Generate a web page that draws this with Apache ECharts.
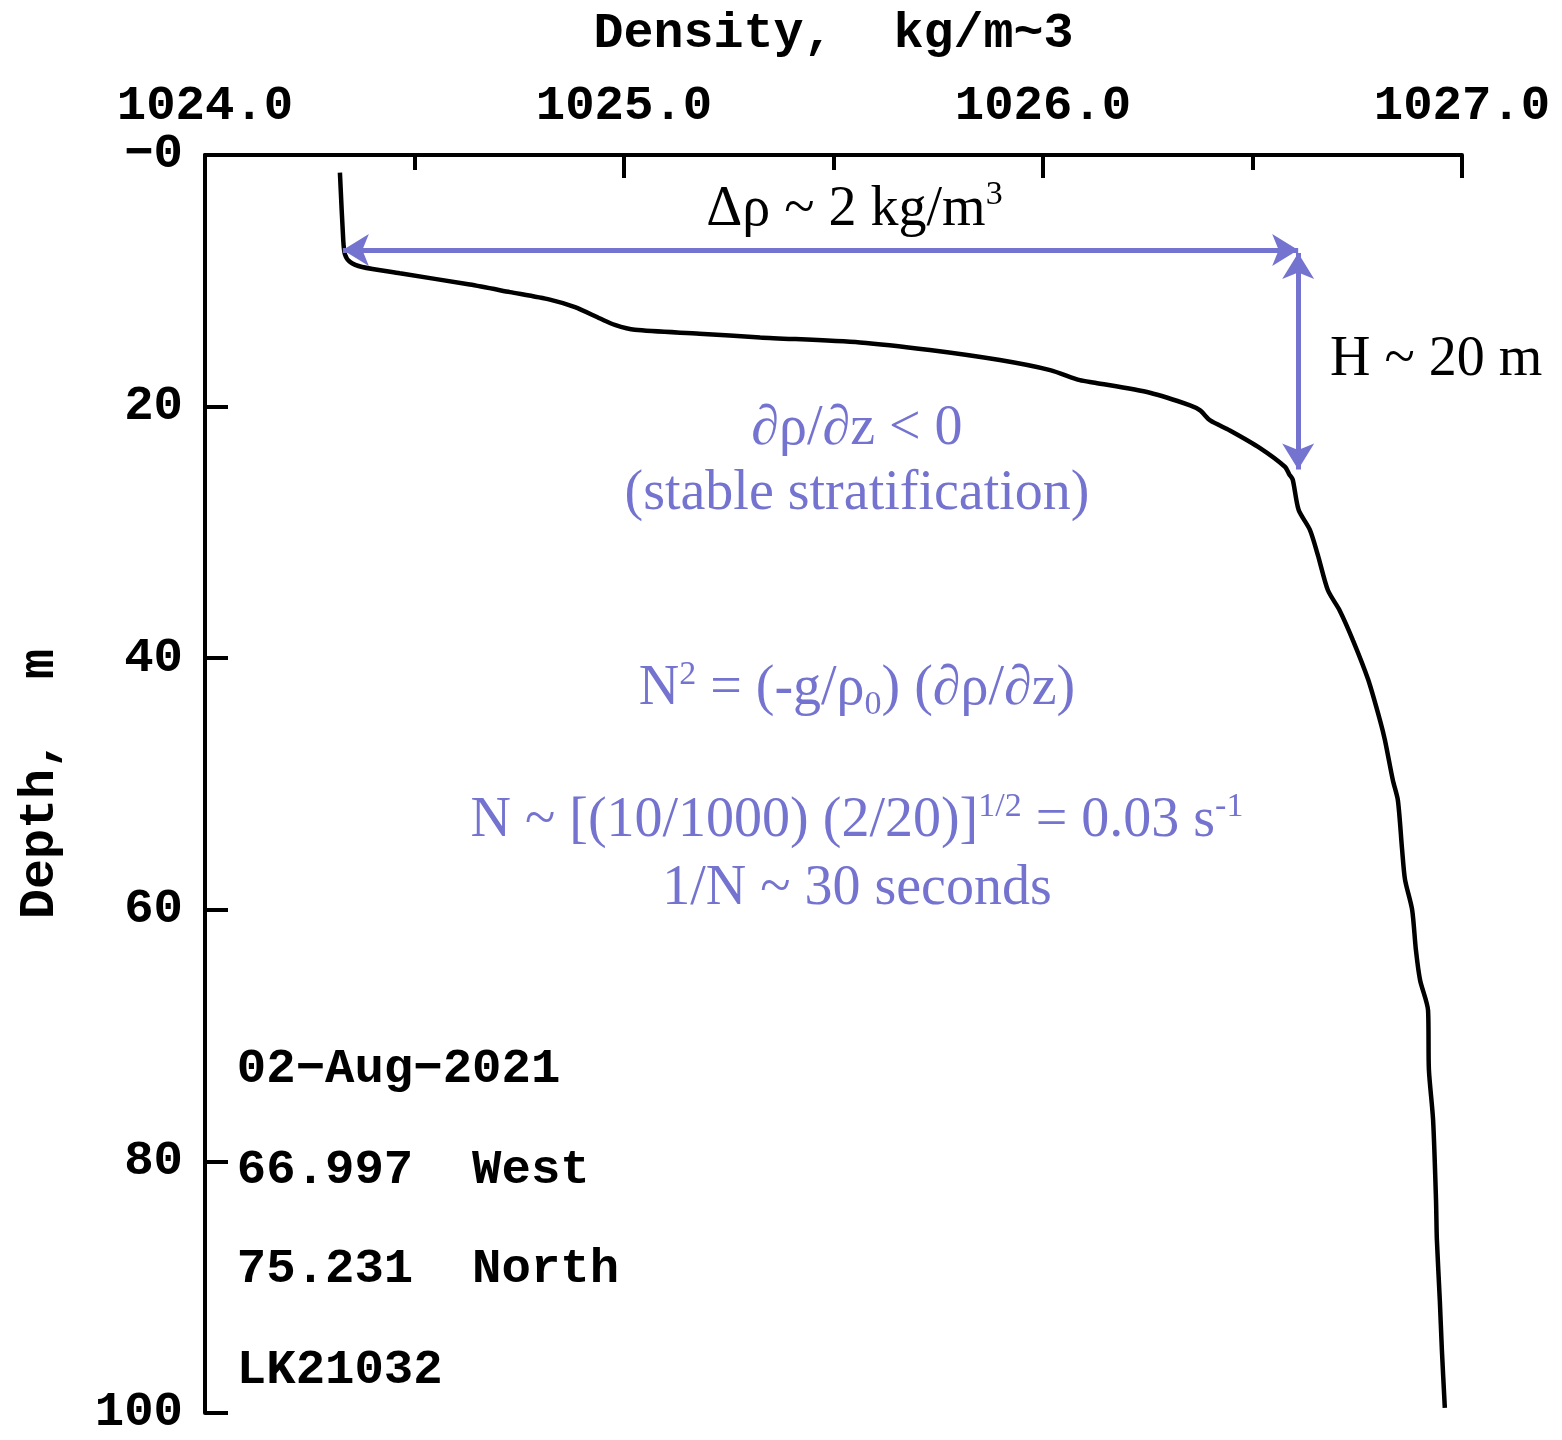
<!DOCTYPE html>
<html>
<head>
<meta charset="utf-8">
<title>Density profile LK21032</title>
<script src="https://cdn.jsdelivr.net/npm/echarts@6/dist/echarts.min.js"></script>
<style>
  html, body { margin: 0; padding: 0; background: #fff; }
  #chart { width: 1562px; height: 1440px; }
</style>
</head>
<body>
<div id="chart"></div>
<script>
// profile: depth (m) and density (kg/m^3)
const depth = [1.4, 6.8, 7.9, 8.5, 8.9, 9.4, 10.3, 10.9, 11.5, 12.1, 13.0, 13.5, 13.9, 14.2, 14.5,
  14.9, 15.5, 16.3, 17.1, 17.9, 18.1, 18.9, 19.9, 20.3, 21.1, 21.9, 23.3, 24.8, 25.4, 25.8,
  28.2, 29.8, 31.8, 34.6, 36.2, 38.6, 41.7, 44.9, 46.5, 49.7, 51.3, 55.2, 57.6, 60.0, 63.2,
  65.6, 68.0, 72.7, 76.7, 83.1, 86.2, 91.0, 95.0, 99.6];
const density = [1024.322, 1024.330, 1024.334, 1024.346, 1024.375, 1024.465, 1024.632, 1024.728,
  1024.823, 1024.883, 1024.943, 1024.978, 1025.026, 1025.180, 1025.325, 1025.563, 1025.730,
  1025.897, 1026.017, 1026.088, 1026.124, 1026.255, 1026.351, 1026.375, 1026.399, 1026.446,
  1026.518, 1026.578, 1026.588, 1026.596, 1026.610, 1026.637, 1026.656, 1026.680, 1026.708,
  1026.740, 1026.776, 1026.804, 1026.816, 1026.835, 1026.847, 1026.857, 1026.864, 1026.881,
  1026.890, 1026.900, 1026.919, 1026.921, 1026.931, 1026.938, 1026.940, 1026.947, 1026.952,
  1026.959];

// arrows: [density, depth] start/end
const rhoArrow = [[1024.329, 7.55], [1026.609, 7.55]];
const hArrow = [[1026.609, 7.8], [1026.609, 25.0]];

// cast info (bottom-left)
const castInfo = ['02\u2212Aug\u22122021', '66.997  West', '75.231  North', 'LK21032'];
const castDepths = [72.7, 80.7, 88.6, 96.6];
const castRho = 1024.076;

// annotations: [text, density, depth, align, color]
const BLUE = '#7474d0';
const notes = [
  ['{n|\u0394\u03c1 ~ 2 kg/m}{sup|3}', 1025.55, 4.4, 'center', '#000'],
  ['{n|H ~ 20 m}', 1026.685, 16.3, 'left', '#000'],
  ['{n|\u2202\u03c1/\u2202z < 0}', 1025.556, 21.8, 'center', BLUE],
  ['{n|(stable stratification)}', 1025.556, 27.0, 'center', BLUE],
  ['{n|N}{sup|2}{n| = (-g/\u03c1}{sub|0}{n|) (\u2202\u03c1/\u2202z)}', 1025.556, 42.5, 'center', BLUE],
  ['{n|N ~ [(10/1000) (2/20)]}{sup|1/2}{n| = 0.03 s}{sup|-1}', 1025.556, 53.0, 'center', BLUE],
  ['{n|1/N ~ 30 seconds}', 1025.556, 58.4, 'center', BLUE]
];

const MONO = '"Liberation Mono", "DejaVu Sans Mono", monospace';
const SERIF = '"Liberation Serif", "DejaVu Serif", serif';

const chart = echarts.init(document.getElementById('chart'));

const profile = depth.map((d, i) => [density[i], d]);

const option = {
  animation: false,
  backgroundColor: '#fff',
  grid: { left: 205, top: 155, right: 100, bottom: 27, containLabel: false, outerBoundsMode: 'none' },
  xAxis: {
    type: 'value',
    position: 'top',
    min: 1024,
    max: 1027,
    interval: 1,
    name: 'Density,  kg/m~3',
    nameLocation: 'middle',
    nameGap: 96,
    nameTextStyle: { fontFamily: MONO, fontWeight: 'bold', fontSize: 50, color: '#000' },
    axisLine: { show: true, lineStyle: { color: '#000', width: 4 } },
    axisTick: { show: true, inside: true, length: 23, lineStyle: { color: '#000', width: 4 } },
    minorTick: { show: true, splitNumber: 2, length: 15, lineStyle: { color: '#000', width: 4 } },
    splitLine: { show: false },
    axisLabel: {
      fontFamily: MONO, fontWeight: 'bold', fontSize: 49, color: '#000', margin: 24,
      formatter: v => v.toFixed(1)
    }
  },
  yAxis: {
    type: 'value',
    inverse: true,
    min: 0,
    max: 100,
    interval: 20,
    name: 'Depth,  m',
    nameLocation: 'middle',
    nameRotate: 90,
    nameGap: 140,
    nameTextStyle: { fontFamily: MONO, fontWeight: 'bold', fontSize: 50, color: '#000' },
    axisLine: { show: true, lineStyle: { color: '#000', width: 4 } },
    axisTick: { show: true, inside: true, length: 23, lineStyle: { color: '#000', width: 4 } },
    splitLine: { show: false },
    axisLabel: {
      fontFamily: MONO, fontWeight: 'bold', fontSize: 49, color: '#000', margin: 22,
      formatter: v => (v === 0 ? '\u22120' : String(v))
    }
  },
  series: [{
    type: 'line',
    data: profile,
    showSymbol: false,
    symbol: 'none',
    smooth: 0.25,
    lineStyle: { color: '#000', width: 4.5 },
    markLine: {
      silent: true,
      symbol: ['arrow', 'arrow'],
      symbolSize: [24, 26],
      label: { show: false },
      lineStyle: { color: BLUE, width: 5, type: 'solid' },
      data: [
        [{ coord: rhoArrow[0] }, { coord: rhoArrow[1] }],
        [{ coord: hArrow[0] }, { coord: hArrow[1] }]
      ]
    }
  }]
};

chart.setOption(option);

// place text annotations through the axis scales
const graphics = [];
notes.forEach(([txt, rho, d, align, color]) => {
  const p = chart.convertToPixel({ gridIndex: 0 }, [rho, d]);
  graphics.push({
    type: 'text',
    x: p[0],
    y: p[1],
    style: {
      text: txt,
      align: align,
      verticalAlign: 'middle',
      fill: color,
      rich: {
        n: { fontFamily: SERIF, fontSize: 56, lineHeight: 64, color: color },
        sup: { fontFamily: SERIF, fontSize: 34, lineHeight: 34, color: color, verticalAlign: 'top' },
        sub: { fontFamily: SERIF, fontSize: 34, lineHeight: 34, color: color, verticalAlign: 'bottom' }
      }
    }
  });
});
castInfo.forEach((txt, i) => {
  const p = chart.convertToPixel({ gridIndex: 0 }, [castRho, castDepths[i]]);
  graphics.push({
    type: 'text',
    x: p[0],
    y: p[1],
    style: {
      text: txt,
      align: 'left',
      verticalAlign: 'middle',
      fill: '#000',
      font: 'bold 49px ' + MONO
    }
  });
});
chart.setOption({ graphic: graphics });

window.addEventListener('resize', () => chart.resize());
</script>
</body>
</html>
